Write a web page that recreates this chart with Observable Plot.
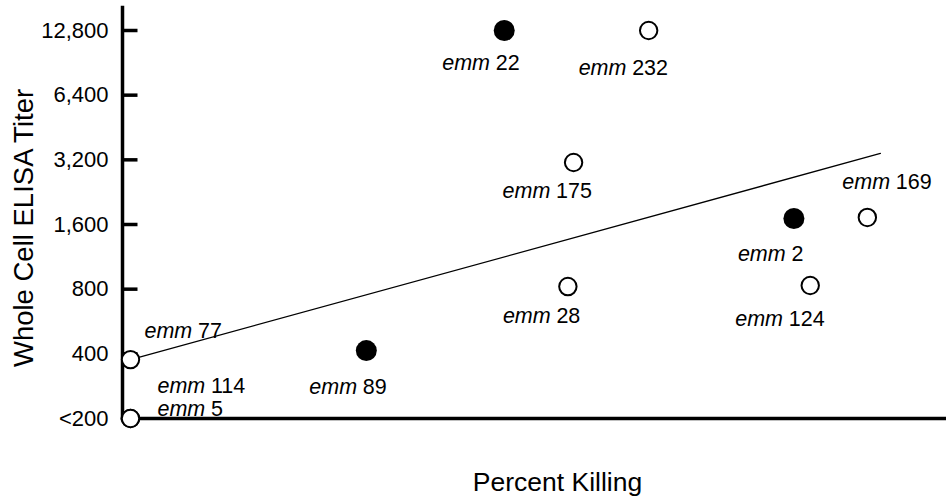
<!DOCTYPE html>
<html><head><meta charset="utf-8">
<script src="https://cdn.jsdelivr.net/npm/d3@7"></script>
<script src="https://cdn.jsdelivr.net/npm/@observablehq/plot@0.6"></script>
<style>body{margin:0;background:#fff;}</style>
</head><body><div id="chart"></div>
<script>
// ---- data ----
const emmTypes = ["77","114","5","89","22","232","175","28","2","169","124"];
const percentKilling = [0,0,0,28.9,45.8,63.5,54.3,53.6,81.3,90.3,83.3];
const elisaTiter = [376,200,200,414,12800,12800,3110,823,1706,1725,832];
const filledCircle = [false,false,false,true,true,false,false,false,true,false,false];
const yTickValues = [200,400,800,1600,3200,6400,12800];
const yTickLabels = ["<200","400","800","1,600","3,200","6,400","12,800"];
const fitKilling = [0, 91.9];
const fitTiter = [376, 3425];
const yTitle = "Whole Cell ELISA Titer";
const xTitle = "Percent Killing";
// ---- label layout (pixel offsets of each label from its point) ----
const labelDx = [14,27,27,-57,-62,-70,-71,-65,-56,-25,-75];
const labelDy = [-28,-32,-9,36,33,38,29,30,36,-35,34];

const points = emmTypes.map((t,i)=>({emm:t, x:percentKilling[i], y:elisaTiter[i], filled:filledCircle[i]}));
const fit = fitKilling.map((x,i)=>({x, y:fitTiter[i]}));
const tickRight = {draw(ctx){ctx.moveTo(0,0);ctx.lineTo(15,0);}};

const labelMarks = points.flatMap((p,i)=>[
  Plot.text([p], {x:"x", y:"y", text:()=>"emm", textAnchor:"start", lineAnchor:"middle", fontStyle:"italic", dx:labelDx[i], dy:labelDy[i], fontSize:21.5, fill:"#000"}),
  Plot.text([p], {x:"x", y:"y", text:d=>d.emm, textAnchor:"start", lineAnchor:"middle", dx:labelDx[i]+53.5, dy:labelDy[i], fontSize:21.5, fill:"#000"})
]);

const chart = Plot.plot({
  width:946, height:501, marginLeft:122, marginRight:0, marginTop:7, marginBottom:83,
  style:{fontFamily:"'Liberation Sans', Arial, sans-serif", fontSize:"21px", color:"#000", background:"#fff"},
  x:{domain:[0,100], range:[130,946], axis:null},
  y:{type:"log", base:2, domain:[200,12800], range:[418,30]},
  marks:[
    Plot.line(fit, {x:"x", y:"y", stroke:"#000", strokeWidth:1.3}),
    Plot.frame({anchor:"bottom", strokeWidth:3.5, stroke:"#000"}),
    Plot.frame({anchor:"left", strokeWidth:3.5, stroke:"#000"}),
    Plot.dot(yTickValues.slice(1), {y:d=>d, frameAnchor:"left", symbol:tickRight, stroke:"#000", strokeWidth:3.5, fill:"none"}),
    Plot.axisY(yTickValues, {tickSize:0, tickPadding:14, tickFormat:d=>yTickLabels[yTickValues.indexOf(d)], fontSize:22, label:null, fill:"#000"}),
    Plot.dot(points.filter(d=>!d.filled), {x:"x", y:"y", r:8.7, fill:"#fff", stroke:"#000", strokeWidth:2}),
    Plot.dot(points.filter(d=>d.filled), {x:"x", y:"y", r:10.5, fill:"#000", stroke:"none"}),
    ...labelMarks,
    Plot.text([yTitle], {frameAnchor:"left", textAnchor:"middle", lineAnchor:"middle", rotate:-90, dx:-98, dy:15, fontSize:27.5, fill:"#000"}),
    Plot.text([xTitle], {frameAnchor:"bottom", textAnchor:"middle", lineAnchor:"middle", dx:23, dy:64, fontSize:26.5, fill:"#000"})
  ]
});
document.getElementById("chart").appendChild(chart);
</script>
</body></html>
